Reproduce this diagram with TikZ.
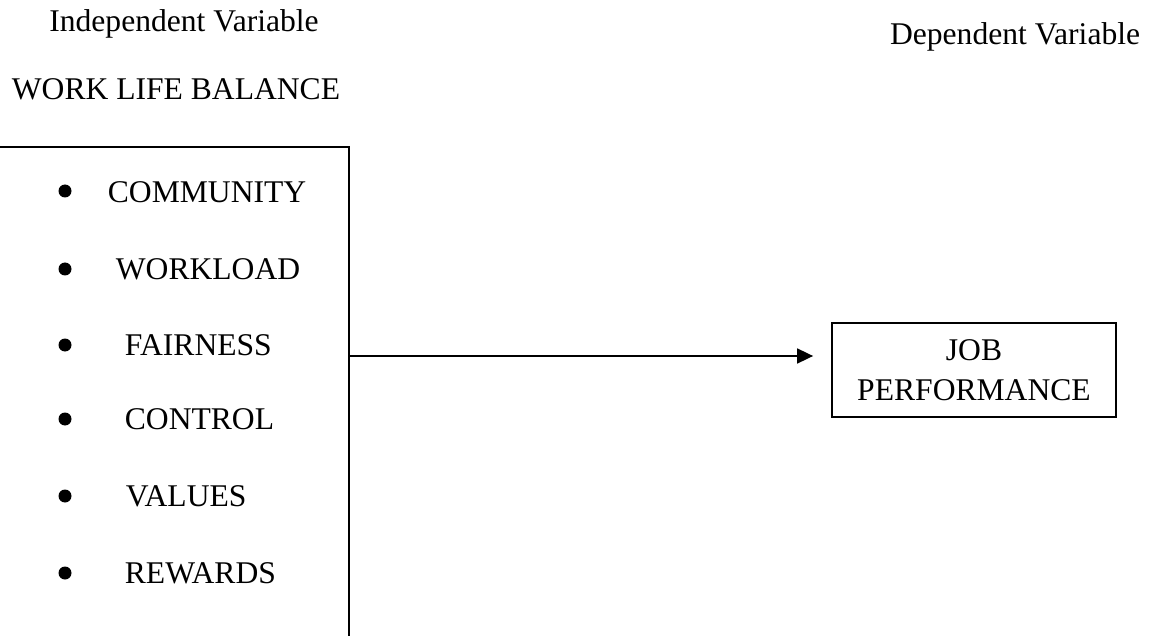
\documentclass[tikz,border=0pt]{standalone}
\usepackage{fontspec}
\setmainfont{Liberation Serif}
\usepackage{tikz}
\usetikzlibrary{positioning, arrows.meta, calc}

\begin{document}
\begin{tikzpicture}[x=0.5pt, y=-0.5pt, line width=0.9pt,
    lbl/.style={inner sep=0pt, font=\fontsize{15.8}{20}\selectfont},
    dot/.style={circle, fill=black, inner sep=0pt, minimum size=6.5pt}]
    \useasboundingbox (0,0) rectangle (1151,636);
    \clip (0,0) rectangle (1151,636);
    \node[lbl, anchor=base] (ivtitle) at (184,32) {Independent Variable};
    \node[lbl, anchor=base] (wlbtitle) at (176,100) {WORK LIFE BALANCE};
    \node[lbl, anchor=base east] (dvtitle) at (1141,45) {Dependent Variable};
    \node[draw, inner sep=0pt, minimum width=184.5pt, minimum height=256.5pt] (wlb) at (164.5,403.5) {};
    \node[dot] (d1) at (65,191) {};
    \node[dot] (d2) at (65,269) {};
    \node[dot] (d3) at (65,345) {};
    \node[dot] (d4) at (65,419) {};
    \node[dot] (d5) at (65,496) {};
    \node[dot] (d6) at (65,573) {};
    \node[lbl, anchor=base west] (community) at (107,203) {COMMUNITY};
    \node[lbl, anchor=base west] (workload) at (115,279) {WORKLOAD};
    \node[lbl, anchor=base west] (fairness) at (124,355) {FAIRNESS};
    \node[lbl, anchor=base west] (control) at (124,429) {CONTROL};
    \node[lbl, anchor=base west] (values) at (125,506) {VALUES};
    \node[lbl, anchor=base west] (rewards) at (124,583) {REWARDS};
    \node[draw, lbl, align=center, minimum width=142pt, minimum height=47pt] (job) at (974,370) {JOB\\PERFORMANCE};
    \coordinate (arrowstart) at (wlb.east |- 0,356);
    \draw[-{Triangle[length=8pt, width=7.5pt]}, shorten >=9pt] (arrowstart) -- (arrowstart -| job.west);
  \end{tikzpicture}
\end{document}
